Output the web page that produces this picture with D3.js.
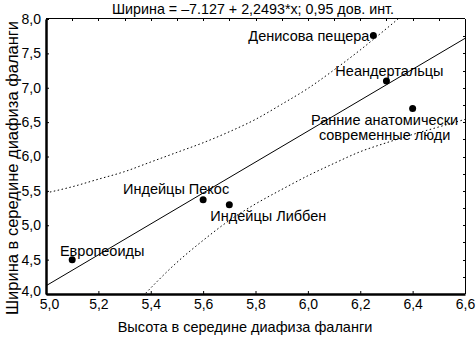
<!DOCTYPE html>
<html><head><meta charset="utf-8">
<script src="https://cdn.jsdelivr.net/npm/d3@7"></script>
<style>
body{margin:0;background:#fff;}
svg{display:block;font-family:"Liberation Sans",Arial,sans-serif;}
</style></head>
<body><svg id="c" width="476" height="337"></svg>
<script>
// ---- data ----
const names = ["Денисова пещера","Неандертальцы","Ранние анатомически\nсовременные люди","Индейцы Пекос","Индейцы Либбен","Европеоиды"];
const heights = [6.25, 6.30, 6.40, 5.60, 5.70, 5.10];
const widths  = [7.76, 7.10, 6.70, 5.37, 5.30, 4.50];
const intercept = -7.127, slope = 2.2493;
const upperX = [5.0, 5.1, 5.2, 5.3, 5.4, 5.5, 5.6, 5.7, 5.8, 5.9, 6.0, 6.1, 6.2, 6.3, 6.36];
const upperY = [5.47,5.56,5.67,5.78,5.92,6.06,6.20,6.36,6.54,6.76,6.99,7.26,7.55,7.86,8.05];
const lowerX = [5.37, 5.5, 5.6, 5.7, 5.8, 5.9, 6.0, 6.1, 6.2, 6.3, 6.4, 6.5, 6.6];
const lowerY = [3.97,4.46,4.78,5.07,5.31,5.52,5.72,5.90,6.07,6.20,6.32,6.43,6.54];
const xTicks = [5.0,5.2,5.4,5.6,5.8,6.0,6.2,6.4,6.6];
const yTicks = [4.0,4.5,5.0,5.5,6.0,6.5,7.0,7.5,8.0];
const title = "Ширина = –7.127 + 2,2493*x; 0,95 дов. инт.";
const xTitle = "Высота в середине диафиза фаланги";
const yTitle = "Ширина в середине диафиза фаланги";
// label layout (pixel offsets from point, anchor)
const labelLayout = [
  {dx:-4, dy:5, anchor:"end"},
  {dx:3, dy:-5, anchor:"middle"},
  {dx:-28, dy:17, anchor:"middle"},
  {dx:-27, dy:-6, anchor:"middle"},
  {dx:39, dy:16, anchor:"middle"},
  {dx:30, dy:-4, anchor:"middle"}
];

const svg = d3.select("#c");
const L=46, R=465, T=19, B=294;
const x = d3.scaleLinear().domain([5.0,6.6]).range([L,R]);
const y = d3.scaleLinear().domain([4.0,8.0]).range([B,T]);
const fmt = d => d3.format(".1f")(d).replace(".",",");

svg.append("defs").append("clipPath").attr("id","clip")
  .append("rect").attr("x",L).attr("y",T).attr("width",R-L).attr("height",B-T);

// title
svg.append("text").attr("x",253).attr("y",14).attr("text-anchor","middle")
  .attr("font-size",14.3).text(title);

// frame top/right thin
svg.append("line").attr("x1",L).attr("x2",R).attr("y1",T-0.5).attr("y2",T-0.5).attr("stroke","#000").attr("stroke-width",1);
svg.append("line").attr("x1",R+0.5).attr("x2",R+0.5).attr("y1",T).attr("y2",B).attr("stroke","#000").attr("stroke-width",1);

// minor ticks top (0.1) and right (0.25)
const topTicks = d3.range(5.1,6.6,0.1);
svg.append("g").selectAll("line").data(topTicks).join("line")
  .attr("x1",d=>Math.round(x(d))+0.5).attr("x2",d=>Math.round(x(d))+0.5)
  .attr("y1",T).attr("y2",T+2).attr("stroke","#000");
const rightTicks = d3.range(4.25,8.0,0.25);
svg.append("g").selectAll("line").data(rightTicks).join("line")
  .attr("y1",d=>Math.round(y(d))+0.5).attr("y2",d=>Math.round(y(d))+0.5)
  .attr("x1",R).attr("x2",R-2).attr("stroke","#000");

// axes
const xAxis = d3.axisBottom(x).tickValues(xTicks).tickFormat(fmt).tickSizeInner(-3).tickSizeOuter(0).tickPadding(5);
const gx = svg.append("g").attr("transform",`translate(0,${B})`).call(xAxis);
gx.select(".domain").attr("stroke-width",2.5);
gx.selectAll("text").attr("font-size",14).attr("font-family","Liberation Sans, Arial, sans-serif").attr("fill","#000");
gx.selectAll(".tick").filter(d=>d===5.0).select("text").attr("dx",3);

const yAxis = d3.axisLeft(y).tickValues(yTicks).tickFormat(fmt).tickSizeInner(-3).tickSizeOuter(0).tickPadding(5);
const gy = svg.append("g").attr("transform",`translate(${L},0)`).call(yAxis);
gy.select(".domain").attr("stroke-width",2.5);
gy.selectAll("text").attr("font-size",14).attr("font-family","Liberation Sans, Arial, sans-serif").attr("fill","#000");
gy.selectAll(".tick").filter(d=>d===4.0).select("text").attr("dy","0.1em");

// axis titles
svg.append("text").attr("x",245).attr("y",332).attr("text-anchor","middle").attr("font-size",14.5).text(xTitle);
svg.append("text").attr("transform","translate(18,168) rotate(-90)").attr("text-anchor","middle")
  .attr("font-size",16.5).text(yTitle);

// regression & bands
const plot = svg.append("g").attr("clip-path","url(#clip)");
const line = d3.line().x(d=>x(d[0])).y(d=>y(d[1]));
const regPts = x.domain().map(v=>[v, intercept + slope*v]);
plot.append("path").attr("d",line(regPts)).attr("fill","none").attr("stroke","#000").attr("stroke-width",1);
const curve = d3.line().x(d=>x(d[0])).y(d=>y(d[1])).curve(d3.curveMonotoneX);
plot.append("path").attr("d",curve(d3.zip(upperX,upperY))).attr("fill","none").attr("stroke","#000")
  .attr("stroke-width",1).attr("stroke-dasharray","1.5,2.5");
plot.append("path").attr("d",curve(d3.zip(lowerX,lowerY))).attr("fill","none").attr("stroke","#000")
  .attr("stroke-width",1).attr("stroke-dasharray","1.5,2.5");

// points
svg.append("g").selectAll("circle").data(heights).join("circle")
  .attr("cx",(d)=>x(d)).attr("cy",(d,i)=>y(widths[i])).attr("r",3.5).attr("fill","#000");

// labels
const lg = svg.append("g");
names.forEach((n,i)=>{
  const lay = labelLayout[i];
  const t = lg.append("text").attr("x",x(heights[i])+lay.dx).attr("y",y(widths[i])+lay.dy)
    .attr("text-anchor",lay.anchor).attr("font-size",14.5);
  n.split("\n").forEach((s,j)=>{
    t.append("tspan").attr("x",x(heights[i])+lay.dx).attr("dy",j===0?0:15).text(s);
  });
});
</script></body></html>
